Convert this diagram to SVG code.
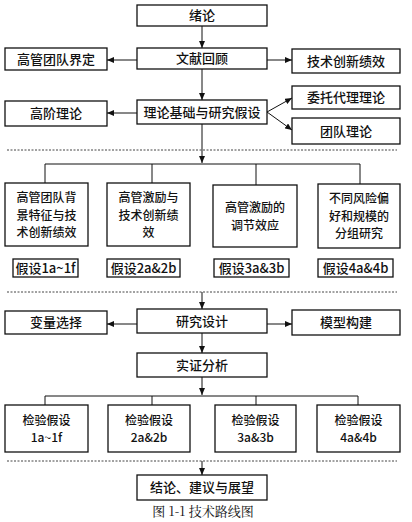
<svg xmlns="http://www.w3.org/2000/svg" width="412" height="522" viewBox="0 0 412 522">
<style>
.b{fill:#fff;stroke:#111;stroke-width:1.3}
.t{font-family:"Noto Sans CJK SC","Noto Sans",sans-serif;font-size:13px;font-weight:500;fill:#111;text-anchor:middle}
.m{font-size:12px}
.c{stroke:#111;stroke-width:1;fill:none}
.d{stroke:#444;stroke-width:1;stroke-dasharray:2,1.5;fill:none}
</style>
<defs>
<marker id="a" markerWidth="7" markerHeight="6" refX="7" refY="3" orient="auto" markerUnits="userSpaceOnUse">
<path d="M0,0 L7,3 L0,6 z" fill="#111"/>
</marker>
</defs>
<rect width="412" height="522" fill="#fff"/>
<g id="connectors">
<path class="c" d="M202,26 V48" marker-end="url(#a)"/>
<path class="c" d="M137,60 H107" marker-end="url(#a)"/>
<path class="c" d="M267,60 H292" marker-end="url(#a)"/>
<path class="c" d="M202,69 V100" marker-end="url(#a)"/>
<path class="c" d="M137,113 H107" marker-end="url(#a)"/>
<path class="c" d="M267,112 L292,98" marker-end="url(#a)"/>
<path class="c" d="M267,112 L292,130" marker-end="url(#a)"/>
<path class="c" d="M202,124 V163" marker-end="url(#a)"/>
<path class="d" d="M7,150 H397"/>
<path class="c" d="M45,183 V164 H360 V184 M152,164 V183 M256,164 V185"/>
<path class="d" d="M7,292 H397"/>
<path class="c" d="M202,292 V309" marker-end="url(#a)"/>
<path class="c" d="M137,324 H107" marker-end="url(#a)"/>
<path class="c" d="M267,324 H292" marker-end="url(#a)"/>
<path class="c" d="M202,333 V353" marker-end="url(#a)"/>
<path class="c" d="M202,377 V395" marker-end="url(#a)"/>
<path class="c" d="M45,405 V396 H358 V405 M152,396 V405 M256,396 V405"/>
<path class="d" d="M7,461 H397"/>
<path class="c" d="M202,461 V475" marker-end="url(#a)"/>
</g>
<g id="n1"><rect class="b" x="137" y="5" width="130" height="21"/><text class="t" x="202" y="20">绪论</text></g>
<g id="n2"><rect class="b" x="137" y="48" width="130" height="21"/><text class="t" x="202" y="63">文献回顾</text></g>
<g id="n3"><rect class="b" x="5" y="48" width="102" height="22"/><text class="t" x="56" y="64">高管团队界定</text></g>
<g id="n4"><rect class="b" x="292" y="49" width="108" height="24"/><text class="t" x="346" y="66">技术创新绩效</text></g>
<g id="n5"><rect class="b" x="137" y="100" width="130" height="24"/><text class="t" x="202" y="117">理论基础与研究假设</text></g>
<g id="n6"><rect class="b" x="5" y="101" width="102" height="25"/><text class="t" x="56" y="118">高阶理论</text></g>
<g id="n7"><rect class="b" x="292" y="86" width="108" height="23"/><text class="t" x="346" y="102">委托代理理论</text></g>
<g id="n8"><rect class="b" x="292" y="118" width="108" height="26"/><text class="t" x="346" y="136">团队理论</text></g>
<g id="n9"><rect class="b" x="5" y="183" width="83" height="63"/><text class="t m" x="46.5" y="202">高管团队背</text><text class="t m" x="46.5" y="219.5">景特征与技</text><text class="t m" x="46.5" y="237">术创新绩效</text></g>
<g id="n10"><rect class="b" x="107" y="183" width="83" height="63"/><text class="t m" x="148.5" y="202">高管激励与</text><text class="t m" x="148.5" y="219.5">技术创新绩</text><text class="t m" x="148.5" y="237">效</text></g>
<g id="n11"><rect class="b" x="213" y="185" width="84" height="62"/><text class="t m" x="255" y="212">高管激励的</text><text class="t m" x="255" y="229.5">调节效应</text></g>
<g id="n12"><rect class="b" x="318" y="184" width="82" height="64"/><text class="t m" x="359" y="203">不同风险偏</text><text class="t m" x="359" y="220.5">好和规模的</text><text class="t m" x="359" y="238">分组研究</text></g>
<g id="n13"><rect class="b" x="13" y="259" width="65" height="18"/><text class="t" x="45.5" y="273">假设1a~1f</text></g>
<g id="n14"><rect class="b" x="107" y="259" width="73" height="18"/><text class="t" x="143.5" y="273">假设2a&amp;2b</text></g>
<g id="n15"><rect class="b" x="214" y="259" width="75" height="18"/><text class="t" x="251.5" y="273">假设3a&amp;3b</text></g>
<g id="n16"><rect class="b" x="318" y="259" width="75" height="18"/><text class="t" x="355.5" y="273">假设4a&amp;4b</text></g>
<g id="n17"><rect class="b" x="137" y="309" width="130" height="24"/><text class="t" x="202" y="326">研究设计</text></g>
<g id="n18"><rect class="b" x="5" y="311" width="102" height="23"/><text class="t" x="56" y="327">变量选择</text></g>
<g id="n19"><rect class="b" x="292" y="310" width="108" height="25"/><text class="t" x="346" y="327">模型构建</text></g>
<g id="n20"><rect class="b" x="137" y="353" width="130" height="24"/><text class="t" x="202" y="370">实证分析</text></g>
<g id="n21"><rect class="b" x="5" y="405" width="83" height="47"/><text class="t m" x="46.5" y="425">检验假设</text><text class="t m" x="46.5" y="442">1a~1f</text></g>
<g id="n22"><rect class="b" x="108" y="405" width="82" height="47"/><text class="t m" x="149" y="425">检验假设</text><text class="t m" x="149" y="442">2a&amp;2b</text></g>
<g id="n23"><rect class="b" x="215" y="405" width="81" height="47"/><text class="t m" x="255.5" y="425">检验假设</text><text class="t m" x="255.5" y="442">3a&amp;3b</text></g>
<g id="n24"><rect class="b" x="317" y="405" width="83" height="47"/><text class="t m" x="358.5" y="425">检验假设</text><text class="t m" x="358.5" y="442">4a&amp;4b</text></g>
<g id="n25"><rect class="b" x="137" y="475" width="130" height="25"/><text class="t" x="202" y="492">结论、建议与展望</text></g>
<text x="203" y="516" font-family="'Noto Serif CJK SC','Noto Sans CJK SC',serif" font-size="13" fill="#111" text-anchor="middle">图 1-1 技术路线图</text>
</svg>
